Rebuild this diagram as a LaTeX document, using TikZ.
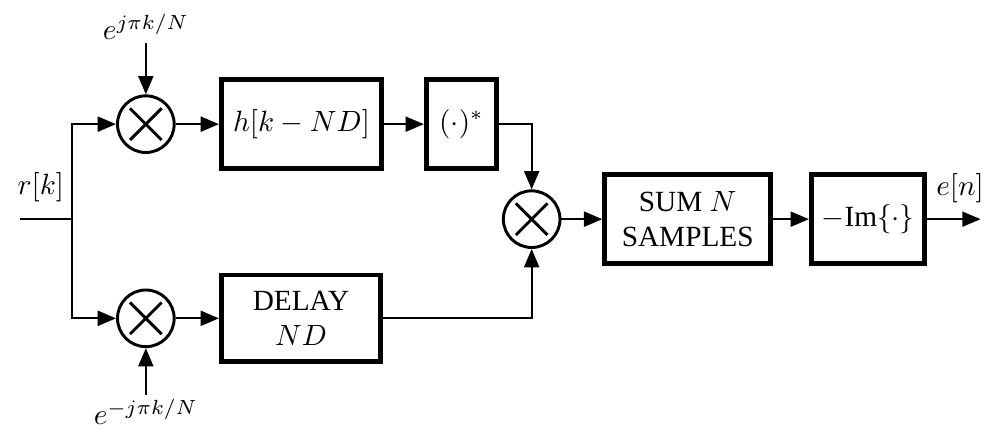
\documentclass[tikz,border=0pt]{standalone}
\usepackage{fontspec}
\setmainfont{Liberation Serif}
\usetikzlibrary{positioning,arrows.meta}

\begin{document}
\begin{tikzpicture}[
  font=\normalsize,
  block/.style={draw,line width=1.7pt,minimum height=10.7mm,align=center,inner sep=1pt},
  mult/.style={draw,circle,line width=1pt,minimum size=6.8mm,inner sep=0pt,
               path picture={\draw[line width=1pt]
                 (path picture bounding box.center) ++(-1.9mm,-1.9mm) -- ++(3.8mm,3.8mm)
                 (path picture bounding box.center) ++(-1.9mm,1.9mm) -- ++(3.8mm,-3.8mm);}},
  tr/.style={-{Triangle[length=2.2mm,width=1.8mm]},line width=0.7pt},
  wire/.style={line width=0.7pt},
  lbl/.style={inner sep=1pt}
]
\useasboundingbox (0,0) rectangle (118.8mm,52.8mm);

% ==========  input and split  ==========
\coordinate (in) at (2.4mm,26.5mm);
\coordinate (junc) at (8.6mm,26.5mm);
\node[lbl] (rk) at (4.9mm,30.3mm) {$r[k]$};

% ==========  upper branch  ==========
\node[mult] (mulUp) at (17.5mm,37.9mm) {};
\node[lbl] (expUp) at (17.5mm,49.6mm) {$e^{j\pi k/N}$};
\node[block,minimum width=19.2mm,right=5.2mm of mulUp] (filt) {$h[k-ND]$};
\node[block,minimum width=8.4mm,right=4.8mm of filt] (conj) {$(\cdot)^*$};

% ==========  lower branch  ==========
\node[mult] (mulDn) at (17.5mm,14.6mm) {};
\node[lbl] (expDn) at (17.5mm,3.4mm) {$e^{-j\pi k/N}$};
\node[block,minimum width=19.1mm,minimum height=10.4mm,right=5.2mm of mulDn] (delay)
  {DELAY\\$ND$};

% ==========  combine and output  ==========
\node[mult] (mulMid) at (63.8mm,26.5mm) {};
\node[block,minimum width=19.9mm,right=4.9mm of mulMid] (sumN) {SUM $N$\\SAMPLES};
\node[block,minimum width=13.6mm,right=4.3mm of sumN] (imag) {$-$Im$\{\cdot\}$};
\coordinate[right=6.4mm of imag] (out);
\node[lbl] (en) at (115.2mm,30.2mm) {$e[n]$};

% ==========  connections  ==========
\draw[wire] (in) -- (junc);
\draw[tr] (junc) |- (mulUp.west);
\draw[tr] (junc) |- (mulDn.west);
\draw[tr] (expUp) -- (mulUp.north);
\draw[tr] (expDn) -- (mulDn.south);
\draw[tr] (mulUp) -- (filt);
\draw[tr] (filt) -- (conj);
\draw[tr] (mulDn) -- (delay);
\draw[tr] (conj.east) -| (mulMid.north);
\draw[tr] (delay.east) -| (mulMid.south);
\draw[tr] (mulMid) -- (sumN);
\draw[tr] (sumN) -- (imag);
\draw[tr] (imag) -- (out);

\end{tikzpicture}
\end{document}
